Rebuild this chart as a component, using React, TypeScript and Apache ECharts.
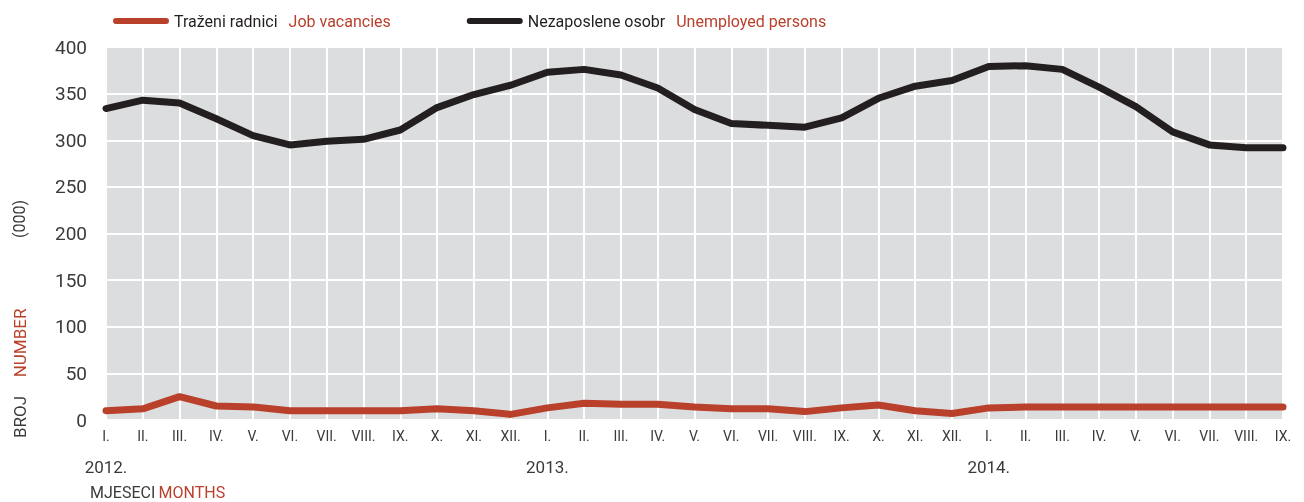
import React, { useEffect, useRef } from 'react';
import * as echarts from 'echarts';

const monthNames = ['I.', 'II.', 'III.', 'IV.', 'V.', 'VI.', 'VII.', 'VIII.', 'IX.', 'X.', 'XI.', 'XII.'];
const months = [...monthNames, ...monthNames, ...monthNames.slice(0, 9)];
const years = ['2012.', '2013.', '2014.'];

const jobVacancies = [10, 12, 25, 15, 14, 10, 10, 10, 10, 12, 10, 6, 13, 18, 17, 17, 14, 12, 12, 9, 13, 16, 10, 7, 13, 14, 14, 14, 14, 14, 14, 14, 14];
const unemployed = [334, 343, 340, 323, 305, 295, 299, 301, 311, 335, 349, 359, 373, 376, 370, 356, 333, 318, 316, 314, 324, 345, 358, 364, 379, 380, 376, 357, 336, 309, 295, 292, 292];

const seriesNames = [
  { hr: 'Traženi radnici', en: 'Job vacancies' },
  { hr: 'Nezaposlene osobr', en: 'Unemployed persons' },
];

const RED = '#b9402b';
const BLACK = '#231f20';
const TEXT = '#3a3a3a';
const FONT = 'Roboto';

export default function App() {
  const ref = useRef<HTMLDivElement>(null);
  useEffect(() => {
    if (!ref.current) return;
    const chart = echarts.init(ref.current, null, { renderer: 'svg' });
    const yearAxis = months.map((_, i) => (i % 12 === 0 ? years[i / 12] : ''));
    const capsule = 'path://M3,0 L54,0 A3,3 0 0 1 54,6 L3,6 A3,3 0 0 1 3,0 Z';
    chart.setOption({
      animation: false,
      textStyle: { fontFamily: FONT },
      grid: {
        left: 106,
        right: 21,
        top: 47,
        bottom: 82,
        show: true,
        backgroundColor: '#dcdddf',
        borderWidth: 0,
      },
      legend: {
        left: 113,
        top: 13,
        padding: 0,
        itemWidth: 56,
        itemHeight: 7,
        itemGap: 76,
        icon: capsule,
        data: seriesNames.map((s) => s.hr),
        formatter: (name: string) => {
          const s = seriesNames.find((x) => x.hr === name)!;
          return `{a|${s.hr}}{b|${s.en}}`;
        },
        textStyle: {
          rich: {
            a: { color: BLACK, fontSize: 16, fontFamily: FONT, padding: [0, 11, 0, 0] },
            b: { color: RED, fontSize: 16, fontFamily: FONT },
          },
        },
      },
      xAxis: [
        {
          type: 'category',
          data: months,
          boundaryGap: false,
          axisLine: { show: false },
          axisTick: { show: false },
          axisLabel: { interval: 0, color: TEXT, fontSize: 14, margin: 9, fontFamily: FONT },
          splitLine: { show: true, lineStyle: { color: '#ffffff', width: 2 } },
        },
        {
          type: 'category',
          data: yearAxis,
          boundaryGap: false,
          position: 'bottom',
          offset: 29,
          axisLine: { show: false },
          axisTick: { show: false },
          axisLabel: { interval: 0, color: TEXT, fontSize: 17, margin: 9, fontFamily: FONT },
          splitLine: { show: false },
        },
      ],
      yAxis: {
        type: 'value',
        min: 0,
        max: 400,
        interval: 50,
        axisLine: { show: false },
        axisTick: { show: false },
        axisLabel: { color: TEXT, fontSize: 19, margin: 19, fontFamily: FONT },
        splitLine: { show: true, lineStyle: { color: '#ffffff', width: 2 } },
      },
      series: [
        {
          name: seriesNames[0].hr,
          type: 'line',
          data: jobVacancies,
          symbol: 'none',
          itemStyle: { color: RED },
          lineStyle: { color: RED, width: 7, cap: 'round', join: 'round' },
        },
        {
          name: seriesNames[1].hr,
          type: 'line',
          data: unemployed,
          symbol: 'none',
          itemStyle: { color: BLACK },
          lineStyle: { color: BLACK, width: 7, cap: 'round', join: 'round' },
        },
      ],
      graphic: [
        {
          type: 'text',
          x: 19.5,
          y: 417,
          rotation: Math.PI / 2,
          style: { text: 'BROJ', fill: TEXT, fontSize: 17, fontFamily: FONT, align: 'center', verticalAlign: 'middle' },
        },
        {
          type: 'text',
          x: 19.5,
          y: 343,
          rotation: Math.PI / 2,
          style: { text: 'NUMBER', fill: RED, fontSize: 17, fontFamily: FONT, align: 'center', verticalAlign: 'middle' },
        },
        {
          type: 'text',
          x: 19.5,
          y: 219,
          rotation: Math.PI / 2,
          style: { text: '(000)', fill: TEXT, fontSize: 16, fontFamily: FONT, align: 'center', verticalAlign: 'middle' },
        },
        {
          type: 'text',
          x: 90,
          y: 492,
          style: {
            text: '{a|MJESECI} {b|MONTHS}',
            verticalAlign: 'middle',
            rich: {
              a: { fill: TEXT, fontSize: 16, fontFamily: FONT },
              b: { fill: RED, fontSize: 16, fontFamily: FONT },
            },
          },
        },
      ],
    });
    return () => chart.dispose();
  }, []);
  return <div ref={ref} style={{ position: 'fixed', left: 0, top: 0, width: 1304, height: 502 }} />;
}
